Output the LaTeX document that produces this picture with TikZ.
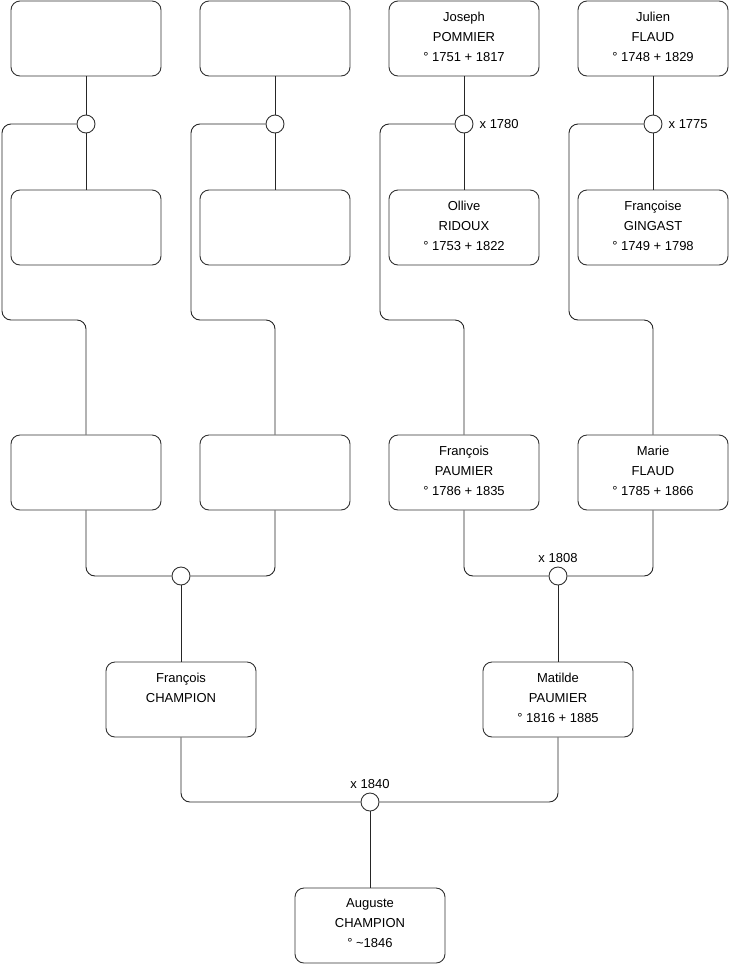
\documentclass[tikz,border=0pt]{standalone}
\usepackage{fontspec}
\setmainfont{Liberation Sans}
\usetikzlibrary{positioning}

\begin{document}
\begin{tikzpicture}[
    x=1pt, y=-1pt,
    person/.style ={draw=black!80, rounded corners=9pt, align=center,
                    minimum width=150pt, minimum height=75pt, inner sep=0pt,
                    text depth=4pt, line width=0.9pt,
                    font=\fontsize{13}{20}\selectfont},
    union/.style  ={draw=black!80, circle, minimum size=18pt, inner sep=0pt,
                    line width=0.9pt},
    year/.style   ={inner sep=0pt, font=\fontsize{13}{15}\selectfont},
    link/.style   ={draw=black!85, line width=0.9pt, rounded corners=9pt},
]
\useasboundingbox (0,0) rectangle (740,975);
% great-grandparents
\node[person] (g1) at (86,38.5)  {};
\node[person] (g2) at (275,38.5) {};
\node[person] (g3) at (464,38.5) {Joseph\\POMMIER\\° 1751 + 1817};
\node[person] (g4) at (653,38.5) {Julien\\FLAUD\\° 1748 + 1829};
\node[union]  (u1) at (86,124)  {};
\node[union]  (u2) at (275,124) {};
\node[union]  (u3) at (464,124) {};
\node[union]  (u4) at (653,124) {};
\node[person] (w1) at (86,227.5)  {};
\node[person] (w2) at (275,227.5) {};
\node[person] (w3) at (464,227.5) {Ollive\\RIDOUX\\° 1753 + 1822};
\node[person] (w4) at (653,227.5) {Françoise\\GINGAST\\° 1749 + 1798};
\node[year, right=6pt of u3] (y1) {x 1780};
\node[year, right=6pt of u4] (y2) {x 1775};
% grandparents
\node[person] (p1) at (86,472.5)  {};
\node[person] (p2) at (275,472.5) {};
\node[person] (p3) at (464,472.5) {François\\PAUMIER\\° 1786 + 1835};
\node[person] (p4) at (653,472.5) {Marie\\FLAUD\\° 1785 + 1866};
\node[union]  (v1) at (181,576) {};
\node[union]  (v2) at (558,576) {};
\node[year, above=4pt of v2] (y3) {x 1808};
% parents
\node[person] (c1) at (181,699.5) {François\\CHAMPION\\\strut};
\node[person] (c2) at (558,699.5) {Matilde\\PAUMIER\\° 1816 + 1885};
\node[union]  (v3) at (370,802) {};
\node[year, above=4pt of v3] (y4) {x 1840};
\node[person] (a1) at (370,925.5) {Auguste\\CHAMPION\\° \textasciitilde1846};

\draw[link] (g1) -- (u1) -- (w1);
\draw[link] (g2) -- (u2) -- (w2);
\draw[link] (g3) -- (u3) -- (w3);
\draw[link] (g4) -- (u4) -- (w4);
\draw[link] (u1.west) -| (2,320) -| (p1.north);
\draw[link] (u2.west) -| (191,320) -| (p2.north);
\draw[link] (u3.west) -| (380,320) -| (p3.north);
\draw[link] (u4.west) -| (569,320) -| (p4.north);
\draw[link] (p1.south) |- (v1.west);
\draw[link] (p2.south) |- (v1.east);
\draw[link] (p3.south) |- (v2.west);
\draw[link] (p4.south) |- (v2.east);
\draw[link] (v1) -- (c1);
\draw[link] (v2) -- (c2);
\draw[link] (c1.south) |- (v3.west);
\draw[link] (c2.south) |- (v3.east);
\draw[link] (v3) -- (a1);
\end{tikzpicture}
\end{document}
